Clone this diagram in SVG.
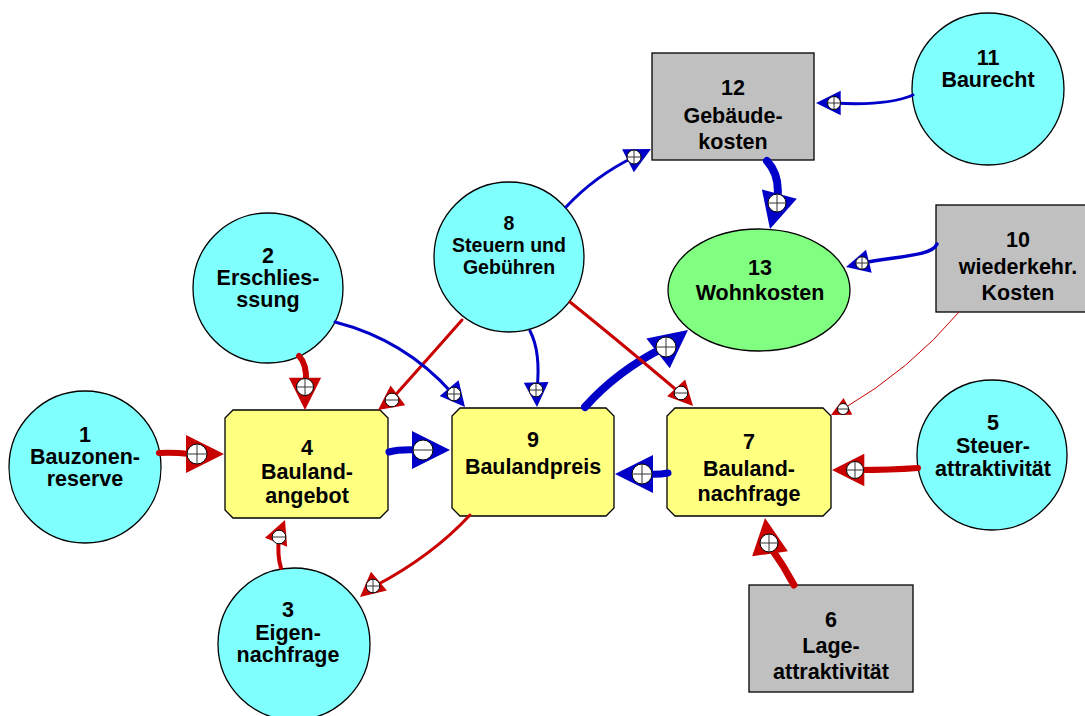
<svg xmlns="http://www.w3.org/2000/svg" xmlns:xlink="http://www.w3.org/1999/xlink" width="1085" height="716" viewBox="0 0 1085 716">
  <style>
    .nd { stroke: #000; stroke-width: 1.3; }
    .cy { fill: #80FFFF; }
    .yl { fill: #FFFF80; }
    .gr { fill: #C0C0C0; }
    .gn { fill: #80FF80; }
    text { font-family: "Liberation Sans", Arial, sans-serif; font-weight: bold; font-size: 21.5px; text-anchor: middle; fill: #000; }
    text.sm { font-size: 19.5px; }
    .r { stroke: #C80000; fill: none; stroke-linecap: round; }
    .b { stroke: #0000C8; fill: none; stroke-linecap: round; }
    .rh { fill: #C80000; }
    .bh { fill: #0000C8; }
    .sg { fill: #fff; stroke: #000; stroke-width: 1; vector-effect: non-scaling-stroke; }
    .sl { stroke: #333; stroke-width: 1; fill: none; vector-effect: non-scaling-stroke; }
  </style>
  <defs>
    <!-- arrow triangle, tip at origin, pointing along +x -->
    <polygon id="tri" points="0,0 -38,-19 -38,19"/>
    <!-- polarity badges -->
    <g id="pos"><circle class="sg" r="10"/><path class="sl" d="M-10,0H10M0,-10V10"/></g>
    <g id="neg"><circle class="sg" r="10"/><path class="sl" d="M-10,0H10"/></g>
  </defs>

  <rect width="1085" height="716" fill="#fff"/>

  <!-- nodes -->
  <g id="n1"><circle class="nd cy" cx="85" cy="467" r="76"/>
    <text x="85" y="442">1</text><text x="85" y="464">Bauzonen-</text><text x="85" y="486">reserve</text></g>
  <g id="n2"><circle class="nd cy" cx="268" cy="288" r="75"/>
    <text x="268" y="263">2</text><text x="268" y="285">Erschlies-</text><text x="268" y="307">ssung</text></g>
  <g id="n3"><circle class="nd cy" cx="294" cy="644" r="76"/>
    <text x="288" y="617">3</text><text x="288" y="640">Eigen-</text><text x="288" y="662">nachfrage</text></g>
  <g id="n4"><path class="nd yl" d="M233,410H380L388,418V510L380,518H233L225,510V418Z"/>
    <text x="307" y="455">4</text><text x="307" y="479">Bauland-</text><text x="307" y="503">angebot</text></g>
  <g id="n5"><circle class="nd cy" cx="992" cy="455" r="75"/>
    <text x="993" y="430">5</text><text x="993" y="453">Steuer-</text><text x="993" y="476">attraktivität</text></g>
  <g id="n6"><rect class="nd gr" x="749" y="585" width="164" height="107"/>
    <text x="831" y="627">6</text><text x="831" y="653">Lage-</text><text x="831" y="679">attraktivität</text></g>
  <g id="n7"><path class="nd yl" d="M675,408H823L831,416V508L823,516H675L667,508V416Z"/>
    <text x="749" y="449">7</text><text x="749" y="476">Bauland-</text><text x="749" y="501">nachfrage</text></g>
  <g id="n8"><circle class="nd cy" cx="509" cy="257" r="75"/>
    <text class="sm" x="509" y="230">8</text><text class="sm" x="509" y="252">Steuern und</text><text class="sm" x="509" y="274">Gebühren</text></g>
  <g id="n9"><path class="nd yl" d="M460,408H606L614,416V508L606,516H460L452,508V416Z"/>
    <text x="533" y="447">9</text><text x="533" y="474">Baulandpreis</text></g>
  <g id="n10"><rect class="nd gr" x="936" y="205" width="164" height="107"/>
    <text x="1018" y="247">10</text><text x="1018" y="274">wiederkehr.</text><text x="1018" y="300">Kosten</text></g>
  <g id="n11"><circle class="nd cy" cx="988" cy="89" r="76"/>
    <text x="988" y="65">11</text><text x="988" y="87">Baurecht</text></g>
  <g id="n12"><rect class="nd gr" x="652" y="53" width="162" height="107"/>
    <text x="733" y="95">12</text><text x="733" y="123">Gebäude-</text><text x="733" y="149">kosten</text></g>
  <g id="n13"><ellipse class="nd gn" cx="759" cy="290" rx="91" ry="61"/>
    <text x="760" y="275">13</text><text x="760" y="300">Wohnkosten</text></g>

  <!-- connectors -->
  <g id="connectors">
    <!-- curves -->
    <path class="r" stroke-width="6" d="M159,453Q172,452 190,454"/>
    <path class="r" stroke-width="6" d="M299,356Q307,364 306,382"/>
    <path class="r" stroke-width="3" d="M462,320Q425,362 390,401"/>
    <path class="b" stroke-width="3" d="M335,322Q405,340 452,393"/>
    <path class="b" stroke-width="3" d="M530,331Q541,352 537,390"/>
    <path class="b" stroke-width="7" d="M389,452Q400,449 418,450"/>
    <path class="b" stroke-width="8" d="M585,407Q617,371 663,348"/>
    <path class="r" stroke-width="3" d="M570,302Q615,338 680,393"/>
    <path class="b" stroke-width="7" d="M668,473Q658,475 644,474"/>
    <path class="r" stroke-width="1" d="M959,312Q910,370 843,409"/>
    <path class="r" stroke-width="6" d="M918,468Q890,470 858,470"/>
    <path class="r" stroke-width="7" d="M794,585Q784,566 771,548"/>
    <path class="r" stroke-width="4" d="M281,568Q277,555 279,538"/>
    <path class="r" stroke-width="3" d="M470,515Q432,556 375,586"/>
    <path class="b" stroke-width="3" d="M566,207Q595,176 634,157"/>
    <path class="b" stroke-width="8" d="M767,161Q781,176 777,202"/>
    <path class="b" stroke-width="3.5" d="M937,244C932,256 900,256 862,263"/>
    <path class="b" stroke-width="3" d="M913,95Q888,106 834,103"/>

    <!-- arrowheads -->
    <use xlink:href="#tri" class="rh" transform="translate(224,454) scale(1)"/>
    <use xlink:href="#tri" class="rh" transform="translate(305,410) rotate(90) scale(0.85)"/>
    <use xlink:href="#tri" class="rh" transform="translate(378,410) rotate(143.7) scale(0.65)"/>
    <use xlink:href="#tri" class="bh" transform="translate(465,407) rotate(50) scale(0.65)"/>
    <use xlink:href="#tri" class="bh" transform="translate(537,407) rotate(88) scale(0.65)"/>
    <use xlink:href="#tri" class="bh" transform="translate(450,450) scale(1)"/>
    <use xlink:href="#tri" class="bh" transform="translate(688,330) rotate(-38) scale(1)"/>
    <use xlink:href="#tri" class="rh" transform="translate(693,406) rotate(47) scale(0.65)"/>
    <use xlink:href="#tri" class="bh" transform="translate(615,474) rotate(180) scale(1)"/>
    <use xlink:href="#tri" class="rh" transform="translate(831,415) rotate(153) scale(0.5)"/>
    <use xlink:href="#tri" class="rh" transform="translate(832,470) rotate(180) scale(0.85)"/>
    <use xlink:href="#tri" class="rh" transform="translate(765,518) rotate(-98) scale(0.95)"/>
    <use xlink:href="#tri" class="rh" transform="translate(285,520) rotate(-68) scale(0.63)"/>
    <use xlink:href="#tri" class="rh" transform="translate(360,597) rotate(140) scale(0.65)"/>
    <use xlink:href="#tri" class="bh" transform="translate(651,149) rotate(-27) scale(0.68)"/>
    <use xlink:href="#tri" class="bh" transform="translate(770,229) rotate(105) scale(0.95)"/>
    <use xlink:href="#tri" class="bh" transform="translate(846,267) rotate(166) scale(0.62)"/>
    <use xlink:href="#tri" class="bh" transform="translate(816,103) rotate(180) scale(0.65)"/>

    <!-- polarity badges -->
    <use xlink:href="#pos" transform="translate(197,454)"/>
    <use xlink:href="#pos" transform="translate(305,387) scale(0.85)"/>
    <use xlink:href="#neg" transform="translate(392,400) scale(0.68)"/>
    <use xlink:href="#pos" transform="translate(454,394) scale(0.68)"/>
    <use xlink:href="#pos" transform="translate(536,390) scale(0.68)"/>
    <use xlink:href="#neg" transform="translate(423,450)"/>
    <use xlink:href="#pos" transform="translate(666,347)"/>
    <use xlink:href="#neg" transform="translate(681,393) scale(0.68)"/>
    <use xlink:href="#pos" transform="translate(642,474)"/>
    <use xlink:href="#neg" transform="translate(843,409) scale(0.55)"/>
    <use xlink:href="#pos" transform="translate(855,470) scale(0.85)"/>
    <use xlink:href="#pos" transform="translate(769,543) scale(0.9)"/>
    <use xlink:href="#neg" transform="translate(279,537) scale(0.68)"/>
    <use xlink:href="#pos" transform="translate(373,586) scale(0.68)"/>
    <use xlink:href="#pos" transform="translate(634,157) scale(0.7)"/>
    <use xlink:href="#pos" transform="translate(777,203) scale(0.9)"/>
    <use xlink:href="#pos" transform="translate(862,263) scale(0.62)"/>
    <use xlink:href="#pos" transform="translate(834,103) scale(0.65)"/>
  </g>
</svg>
